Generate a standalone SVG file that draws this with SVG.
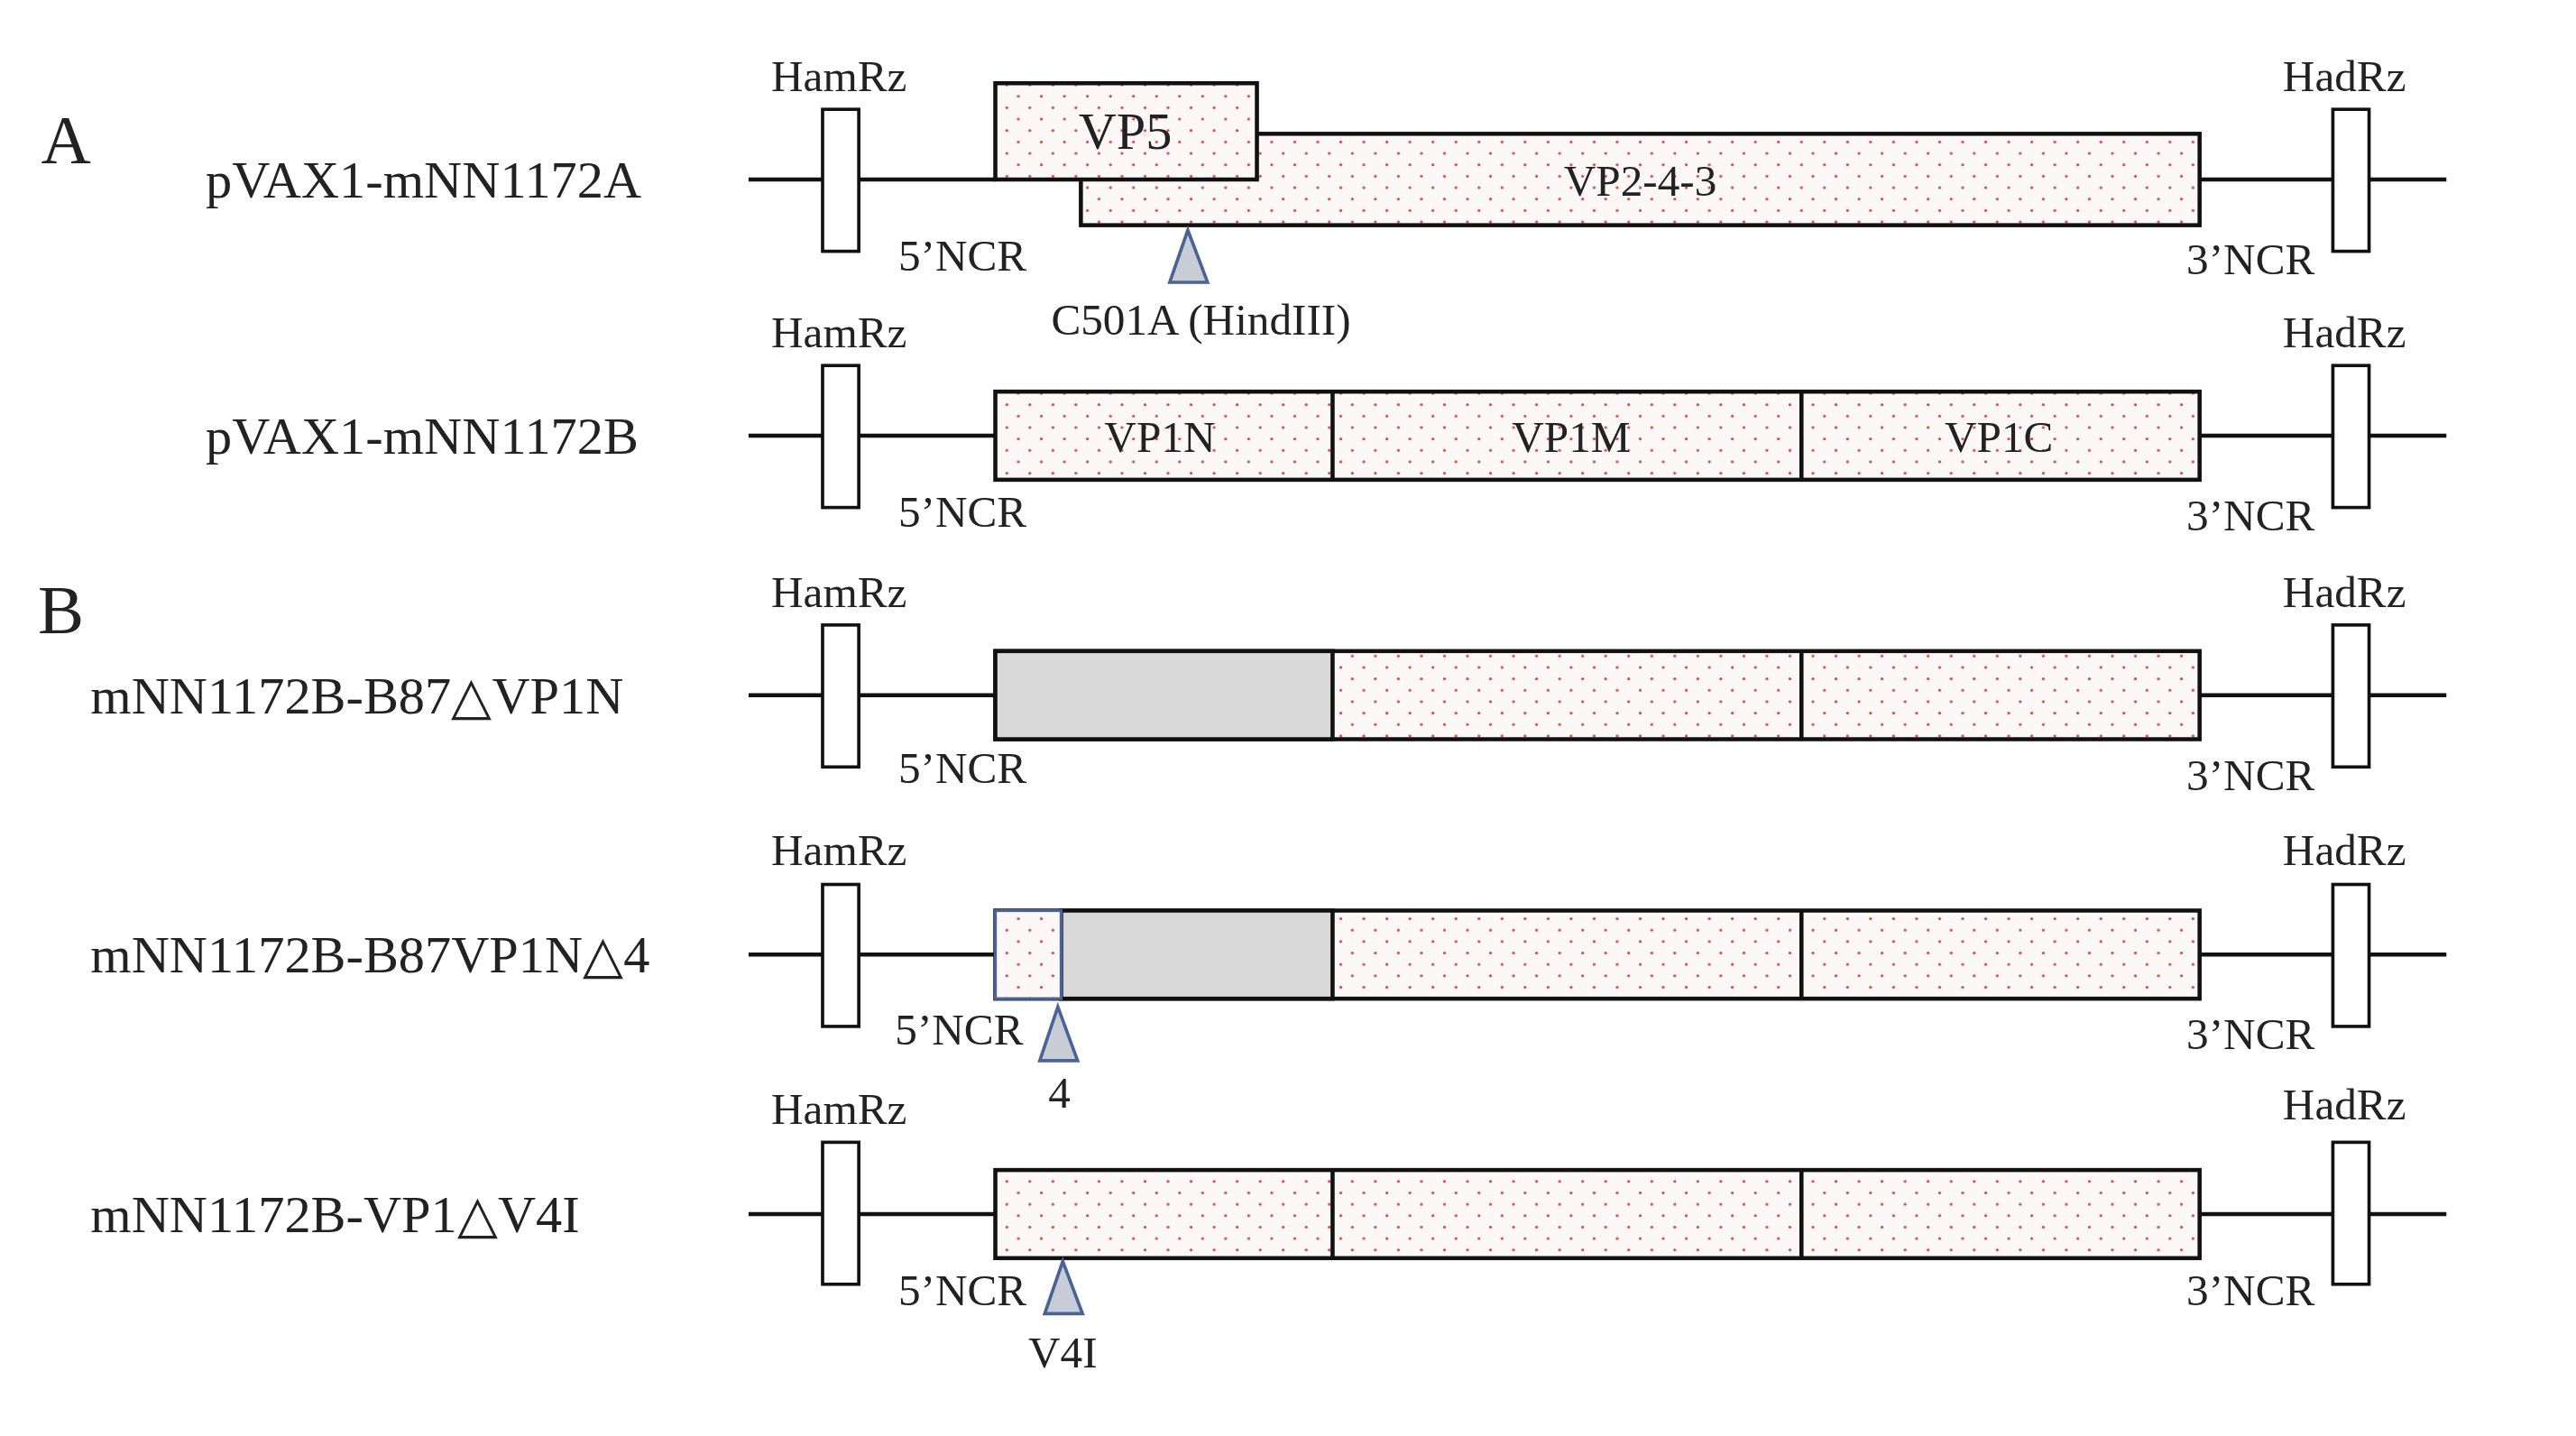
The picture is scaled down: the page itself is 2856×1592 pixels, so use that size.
<svg xmlns="http://www.w3.org/2000/svg" width="2856" height="1592" viewBox="0 0 2856 1592">
<style>
.t{font-family:"Liberation Serif","Times New Roman",serif;fill:#222}
.lab{font-size:32px}
.sm{font-size:27px}
.line{stroke:#111;stroke-width:2.5;fill:none}
.rz{fill:#fff;stroke:#111;stroke-width:2}
.dot{fill:url(#dots);stroke:#111;stroke-width:2.5}
.gray{fill:#d9d9d9;stroke:#111;stroke-width:2.5}
.tri{fill:#c8ccd6;stroke:#4a6394;stroke-width:2}
</style>
<defs>
<pattern id="dots" width="14" height="14" patternUnits="userSpaceOnUse">
<rect width="14" height="14" fill="#fdf8f8"/>
<circle cx="3" cy="3" r="0.9" fill="#d04848"/>
<circle cx="10" cy="10" r="0.9" fill="#d04848"/>
</pattern>
</defs>
<rect width="2856" height="1592" fill="#fff"/>
<g transform="scale(1.824,1.8091)">
<text class="t" x="25" y="100" font-size="42">A</text>
<text class="t" x="23" y="388" font-size="42">B</text>

<g id="row1">
<text class="t lab" x="125" y="121">pVAX1-mNN1172A</text>
<path class="line" d="M455 110H605M1337 110H1487"/>
<rect class="dot" x="657" y="82" width="680" height="56"/>
<rect class="dot" x="605" y="51" width="159" height="59"/>
<text class="t lab" x="684" y="91" text-anchor="middle">VP5</text>
<text class="t sm" x="997" y="120" text-anchor="middle">VP2-4-3</text>
<rect class="rz" x="500" y="67" width="22" height="87"/>
<rect class="rz" x="1418" y="67" width="22" height="87"/>
<text class="t sm" x="510" y="56" text-anchor="middle">HamRz</text>
<text class="t sm" x="1425" y="56" text-anchor="middle">HadRz</text>
<text class="t sm" x="585" y="166" text-anchor="middle">5’NCR</text>
<text class="t sm" x="1368" y="168" text-anchor="middle">3’NCR</text>
<polygon class="tri" points="722,141 711,173 734,173"/>
<text class="t sm" x="730" y="205" text-anchor="middle">C501A (HindIII)</text>
</g>

<g id="row2">
<text class="t lab" x="125" y="278">pVAX1-mNN1172B</text>
<path class="line" d="M455 267H605M1337 267H1487"/>
<rect class="dot" x="605" y="240" width="732" height="54"/>
<path class="line" d="M810 240V294M1095 240V294"/>
<text class="t sm" x="705" y="277" text-anchor="middle">VP1N</text>
<text class="t sm" x="955" y="277" text-anchor="middle">VP1M</text>
<text class="t sm" x="1215" y="277" text-anchor="middle">VP1C</text>
<rect class="rz" x="500" y="224" width="22" height="87"/>
<rect class="rz" x="1418" y="224" width="22" height="87"/>
<text class="t sm" x="510" y="213" text-anchor="middle">HamRz</text>
<text class="t sm" x="1425" y="213" text-anchor="middle">HadRz</text>
<text class="t sm" x="585" y="323" text-anchor="middle">5’NCR</text>
<text class="t sm" x="1368" y="325" text-anchor="middle">3’NCR</text>
</g>

<g id="row3">
<text class="t lab" x="55" y="437">mNN1172B-B87△VP1N</text>
<path class="line" d="M455 426H605M1337 426H1487"/>
<rect class="dot" x="605" y="399" width="732" height="54"/>
<rect class="gray" x="605" y="399" width="205" height="54"/>
<path class="line" d="M1095 399V453"/>
<rect class="rz" x="500" y="383" width="22" height="87"/>
<rect class="rz" x="1418" y="383" width="22" height="87"/>
<text class="t sm" x="510" y="372" text-anchor="middle">HamRz</text>
<text class="t sm" x="1425" y="372" text-anchor="middle">HadRz</text>
<text class="t sm" x="585" y="480" text-anchor="middle">5’NCR</text>
<text class="t sm" x="1368" y="484" text-anchor="middle">3’NCR</text>
</g>

<g id="row4">
<text class="t lab" x="55" y="596">mNN1172B-B87VP1N△4</text>
<path class="line" d="M455 585H605M1337 585H1487"/>
<rect class="dot" x="605" y="558" width="732" height="54"/>
<rect class="gray" x="645" y="558" width="165" height="54"/>
<rect x="605" y="558" width="40" height="54" fill="url(#dots)" stroke="#4a6394" stroke-width="1.8"/>
<path class="line" d="M1095 558V612"/>
<rect class="rz" x="500" y="542" width="22" height="87"/>
<rect class="rz" x="1418" y="542" width="22" height="87"/>
<text class="t sm" x="510" y="530" text-anchor="middle">HamRz</text>
<text class="t sm" x="1425" y="530" text-anchor="middle">HadRz</text>
<text class="t sm" x="583" y="640" text-anchor="middle">5’NCR</text>
<text class="t sm" x="1368" y="643" text-anchor="middle">3’NCR</text>
<polygon class="tri" points="643,617 632,650 655,650"/>
<text class="t sm" x="644" y="679" text-anchor="middle">4</text>
</g>

<g id="row5">
<text class="t lab" x="55" y="755">mNN1172B-VP1△V4I</text>
<path class="line" d="M455 744H605M1337 744H1487"/>
<rect class="dot" x="605" y="717" width="732" height="54"/>
<path class="line" d="M810 717V771M1095 717V771"/>
<rect class="rz" x="500" y="700" width="22" height="87"/>
<rect class="rz" x="1418" y="700" width="22" height="87"/>
<text class="t sm" x="510" y="689" text-anchor="middle">HamRz</text>
<text class="t sm" x="1425" y="686" text-anchor="middle">HadRz</text>
<text class="t sm" x="585" y="800" text-anchor="middle">5’NCR</text>
<text class="t sm" x="1368" y="800" text-anchor="middle">3’NCR</text>
<polygon class="tri" points="646,773 635,805 658,805"/>
<text class="t sm" x="646" y="838" text-anchor="middle">V4I</text>
</g>
<g id="connectors"/>
</g>
</svg>
